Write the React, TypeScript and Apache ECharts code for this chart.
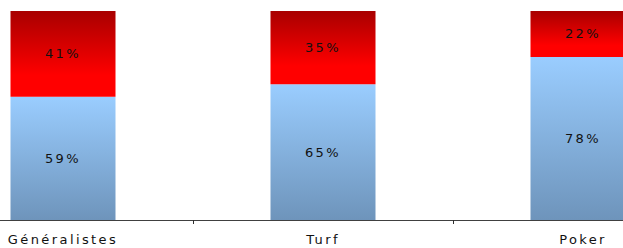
import React, { useEffect, useRef } from "react";
import * as echarts from "echarts";

const categories = ["Généralistes", "Turf", "Poker"];
const bottomValues = [59, 65, 78];
const topValues = [41, 35, 22];

export default function App() {
  const ref = useRef<HTMLDivElement>(null);
  useEffect(() => {
    document.body.style.margin = "0";
    const chart = echarts.init(ref.current!, null, { renderer: "svg" });
    const labelStyle = {
      show: true,
      position: "inside" as const,
      formatter: "{c}%",
      color: "#111111",
      fontFamily: "DejaVu Sans",
      fontSize: 13,
    };
    chart.setOption({
      animation: false,
      grid: { left: 0, top: 11, width: 780, height: 209 },
      xAxis: {
        type: "category",
        data: categories,
        axisLine: { show: true, lineStyle: { color: "#404040", width: 1 } },
        axisTick: { show: true, interval: 0, length: 4, lineStyle: { color: "#303030", width: 1 } },
        axisLabel: {
          color: "#111111",
          fontFamily: "DejaVu Sans",
          fontSize: 13,
          margin: 13,
          interval: 0,
        },
      },
      yAxis: { type: "value", min: 0, max: 100, show: false, splitLine: { show: false } },
      series: [
        {
          type: "bar",
          stack: "s",
          data: bottomValues,
          barWidth: 105,
          label: labelStyle,
          itemStyle: {
            color: new echarts.graphic.LinearGradient(0, 0, 0, 1, [
              { offset: 0, color: "#9acdff" },
              { offset: 1, color: "#6e94bb" },
            ]),
          },
        },
        {
          type: "bar",
          stack: "s",
          data: topValues,
          barWidth: 105,
          label: labelStyle,
          itemStyle: {
            color: new echarts.graphic.LinearGradient(0, 0, 0, 1, [
              { offset: 0, color: "#a80000" },
              { offset: 0.75, color: "#ff0000" },
              { offset: 1, color: "#ff0000" },
            ]),
          },
        },
      ],
    });
    return () => chart.dispose();
  }, []);
  return (
    <div style={{ width: 623, height: 248, overflow: "hidden", position: "relative" }}>
      <style>{`.chartbox text { letter-spacing: 2.4px; }`}</style>
      <div
        className="chartbox"
        ref={ref}
        style={{ position: "absolute", left: -67, top: 0, width: 780, height: 248 }}
      />
    </div>
  );
}
